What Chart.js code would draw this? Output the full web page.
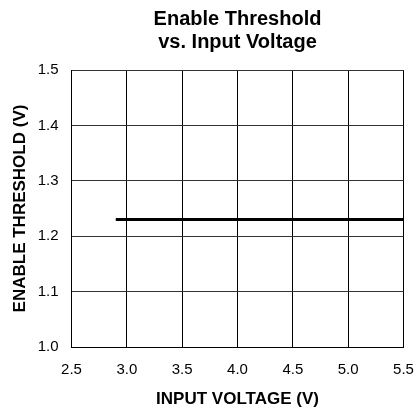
<!DOCTYPE html>
<html>
<head>
<meta charset="utf-8">
<script src="https://cdn.jsdelivr.net/npm/chart.js@4"></script>
<style>
  html, body { margin: 0; padding: 0; background: #fff; }
  #wrap { width: 418px; height: 413px; }
</style>
</head>
<body>
<div id="wrap"><canvas id="thresholdChart" width="418" height="413"></canvas></div>
<script>
const titleLines = ['Enable Threshold', 'vs. Input Voltage'];
const inputVoltage = [2.9, 5.5];
const enableThreshold = [1.23, 1.23];
const xTicks = [2.5, 3.0, 3.5, 4.0, 4.5, 5.0, 5.5];
const yTicks = [1.0, 1.1, 1.2, 1.3, 1.4, 1.5];

const FONT = "'Liberation Sans', Arial, sans-serif";

// title centred over the plot area, not the whole canvas
const plotTitle = {
    id: 'plotTitle',
    afterDraw(chart) {
        const c = chart.ctx;
        const area = chart.chartArea;
        c.save();
        c.fillStyle = '#000';
        c.font = 'bold 20px ' + FONT;
        c.textAlign = 'center';
        c.textBaseline = 'middle';
        titleLines.forEach((t, i) => c.fillText(t, (area.left + area.right) / 2, 19 + i * 23));
        c.restore();
    }
};

new Chart(document.getElementById('thresholdChart'), {
    type: 'line',
    data: {
        datasets: [{
            data: inputVoltage.map((v, i) => ({ x: v, y: enableThreshold[i] })),
            borderColor: '#000',
            borderWidth: 3,
            pointRadius: 0,
            tension: 0
        }]
    },
    options: {
        responsive: false,
        animation: false,
        layout: { padding: { top: 70, right: 14.5, left: 0, bottom: 0 } },
        plugins: {
            legend: { display: false },
            tooltip: { enabled: false },
            title: { display: false }
        },
        scales: {
            x: {
                type: 'linear',
                min: 2.5,
                max: 5.5,
                afterBuildTicks: s => { s.ticks = xTicks.map(v => ({ value: v })); },
                afterFit: s => { s.height = 66; s.paddingLeft = 0; s.paddingRight = 0; },
                grid: { color: '#000', lineWidth: 1, drawTicks: false },
                border: { color: '#000', width: 1 },
                ticks: {
                    color: '#000',
                    font: { family: FONT, size: 15 },
                    padding: 14,
                    maxRotation: 0,
                    callback: v => v.toFixed(1)
                },
                title: {
                    display: true,
                    text: 'INPUT VOLTAGE (V)',
                    color: '#000',
                    font: { family: FONT, size: 17, weight: 'bold' },
                    padding: { top: 4, bottom: 3 }
                }
            },
            y: {
                min: 1.0,
                max: 1.5,
                afterBuildTicks: s => { s.ticks = yTicks.map(v => ({ value: v })); },
                afterFit: s => { s.width = 71.5; s.paddingTop = 0; s.paddingBottom = 0; },
                grid: { color: '#333', lineWidth: 1, drawTicks: false },
                border: { color: '#000', width: 1 },
                ticks: {
                    color: '#000',
                    font: { family: FONT, size: 15 },
                    padding: 13,
                    callback: v => v.toFixed(1)
                },
                title: {
                    display: true,
                    text: 'ENABLE THRESHOLD (V)',
                    color: '#000',
                    font: { family: FONT, size: 17, weight: 'bold' },
                    padding: { top: 10, bottom: 0 }
                }
            }
        }
    },
    plugins: [plotTitle]
});
</script>
</body>
</html>
